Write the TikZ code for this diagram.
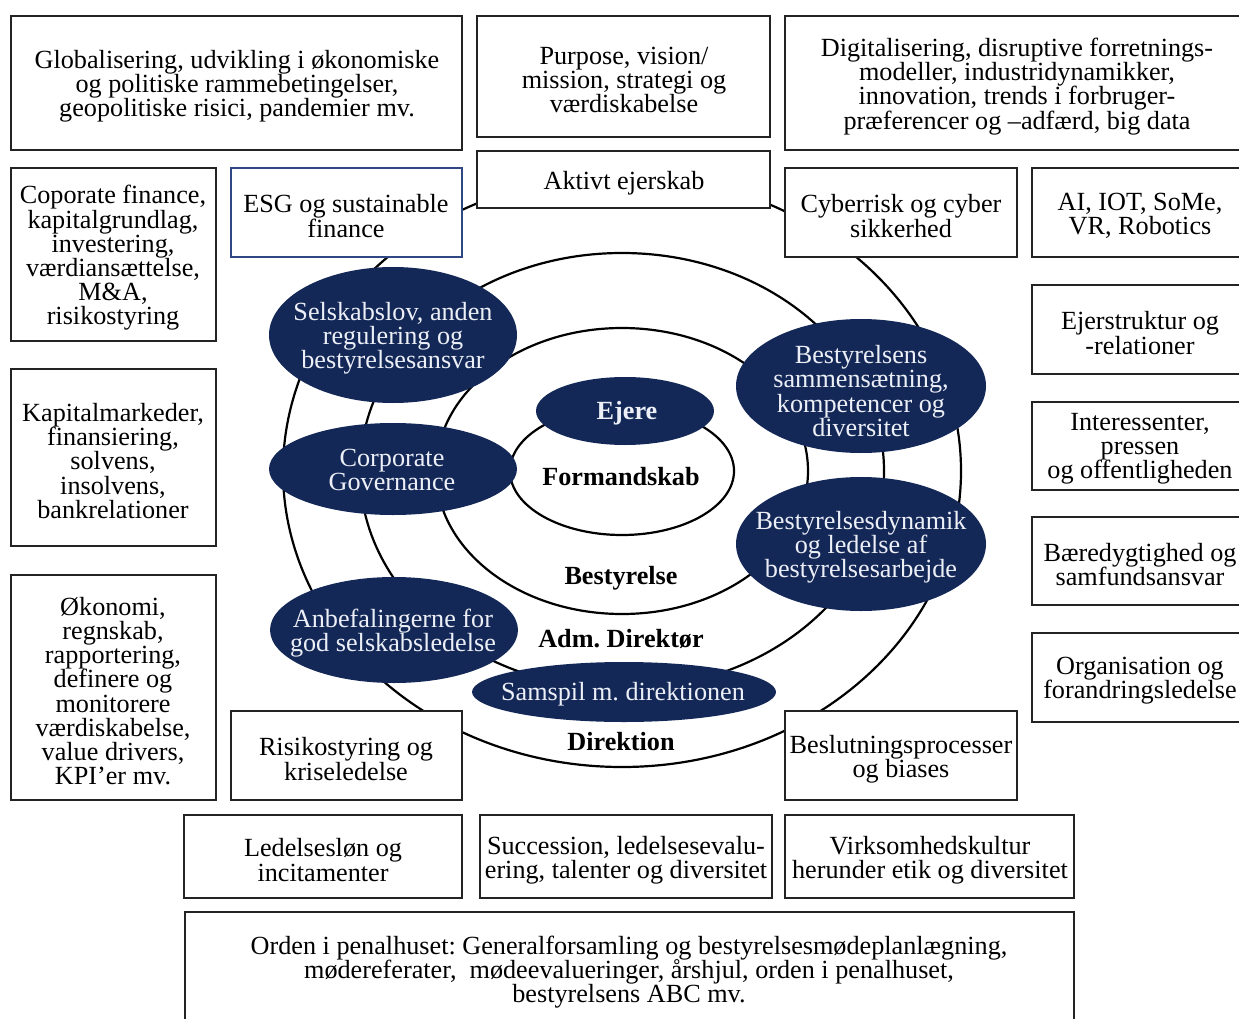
\documentclass[tikz,border=0pt]{standalone}
\usepackage{fontspec}
\setmainfont{Liberation Serif}
\usetikzlibrary{shapes.geometric}
\definecolor{navy}{RGB}{20,40,88}
\definecolor{paleink}{RGB}{236,239,246}
\definecolor{esgblue}{RGB}{47,72,132}
\definecolor{boxline}{RGB}{35,35,35}
\lineskiplimit=-30pt
\frenchspacing

\begin{document}
\begin{tikzpicture}[x=1pt, y=-1pt,
    txt/.style={align=center, inner sep=0pt, font=\fontsize{26.2}{24.2}\selectfont},
    topic/.style={draw=boxline, line width=1.3pt, fill=white, inner sep=0pt},
    ring/.style={ellipse, draw=black, line width=2.2pt, inner sep=0pt},
    blob/.style={ellipse, fill=navy, inner sep=0pt},
    ontxt/.style={txt, text=paleink},
    level/.style={txt, font=\fontsize{26.2}{24.2}\selectfont\bfseries}]

        \useasboundingbox (0,0) rectangle (1239,1019);

        % rings
        \node[ring, minimum width=678pt, minimum height=592pt] at (622,471) (direktion) {};
        \node[ring, minimum width=524pt, minimum height=436pt] at (622,471) (adm) {};
        \node[ring, minimum width=372pt, minimum height=286pt] at (622,471) (bestyrelse) {};
        \node[ring, minimum width=224pt, minimum height=128pt] at (622,471) (formand) {};

        % topic boxes
        \node[topic, minimum width=451pt, minimum height=134pt] at (236.5,83) (glob) {};
        \node[topic, minimum width=293pt, minimum height=121pt] at (623.5,76.5) (purpose) {};
        \node[topic, minimum width=464pt, minimum height=134pt] at (1017,83) (digital) {};
        \node[topic, minimum width=293pt, minimum height=57pt] at (623.5,179.5) (ejerskab) {};
        \node[topic, minimum width=205pt, minimum height=173pt] at (113.5,254.5) (corpfin) {};
        \node[topic, draw=esgblue, minimum width=231pt, minimum height=89pt] at (346.5,212.5) (esg) {};
        \node[topic, minimum width=232pt, minimum height=89pt] at (901,212.5) (cyber) {};
        \node[topic, minimum width=216pt, minimum height=89pt] at (1140,212.5) (tech) {};
        \node[topic, minimum width=216pt, minimum height=89pt] at (1140,329.5) (ejerstruktur) {};
        \node[topic, minimum width=205pt, minimum height=177pt] at (113.5,457.5) (kapital) {};
        \node[topic, minimum width=216pt, minimum height=88pt] at (1140,446) (interessenter) {};
        \node[topic, minimum width=216pt, minimum height=88pt] at (1140,561) (baered) {};
        \node[topic, minimum width=205pt, minimum height=225pt] at (113.5,687.5) (oekonomi) {};
        \node[topic, minimum width=216pt, minimum height=89pt] at (1140,677.5) (organisation) {};
        \node[topic, minimum width=231pt, minimum height=89pt] at (346.5,755.5) (risiko) {};
        \node[topic, minimum width=232pt, minimum height=89pt] at (901,755.5) (beslut) {};
        \node[topic, minimum width=278pt, minimum height=83pt] at (323,856.5) (loen) {};
        \node[topic, minimum width=292pt, minimum height=83pt] at (626,856.5) (succession) {};
        \node[topic, minimum width=289pt, minimum height=83pt] at (929.5,856.5) (kultur) {};
        \node[topic, minimum width=889pt, minimum height=114pt] at (629.5,969) (orden) {};

        % box texts
        \node[txt] at (237,86.5) (globtxt) {Globalisering, udvikling i økonomiske\\og politiske rammebetingelser,\\geopolitiske risici, pandemier mv.};
        \node[txt] at (624,80) (purposetxt) {Purpose, vision/\\mission, strategi og\\værdiskabelse};
        \node[txt] at (1017,86.5) (digitaltxt) {Digitalisering, disruptive forretnings-\\modeller, industridynamikker,\\innovation, trends i forbruger-\\præferencer og –adfærd, big data};
        \node[txt] at (624,183) (ejerskabtxt) {Aktivt ejerskab};
        \node[txt] at (113,258) (corpfintxt) {Coporate finance,\\kapitalgrundlag,\\investering,\\værdiansættelse,\\M\&A,\\risikostyring};
        \node[txt] at (346,216) (esgtxt) {ESG og sustainable\\finance};
        \node[txt] at (901,216) (cybertxt) {Cyberrisk og cyber\\sikkerhed};
        \node[txt] at (1140,216) (techtxt) {AI, IOT, SoMe,\\VR, Robotics};
        \node[txt] at (1140,333) (ejerstrukturtxt) {Ejerstruktur og\\-relationer};
        \node[txt] at (113,461) (kapitaltxt) {Kapitalmarkeder,\\finansiering,\\solvens,\\insolvens,\\bankrelationer};
        \node[txt] at (1140,449) (interessentertxt) {Interessenter,\\pressen\\og offentligheden};
        \node[txt] at (1140,564.5) (baeredtxt) {Bæredygtighed og\\samfundsansvar};
        \node[txt] at (113,691) (oekonomitxt) {Økonomi,\\regnskab,\\rapportering,\\definere og\\monitorere\\værdiskabelse,\\value drivers,\\KPI’er mv.};
        \node[txt] at (1140,681) (organisationtxt) {Organisation og\\forandringsledelse};
        \node[txt] at (346,759) (risikotxt) {Risikostyring og\\kriseledelse};
        \node[txt] at (901,759) (beslutxt) {Beslutningsprocesser\\og biases};
        \node[txt] at (323,860) (loentxt) {Ledelsesløn og\\incitamenter};
        \node[txt] at (626,860) (successiontxt) {Succession, ledelsesevalu-\\ering, talenter og diversitet};
        \node[txt] at (930,860) (kulturtxt) {Virksomhedskultur\\herunder etik og diversitet};
        \node[txt] at (629,972) (ordentxt) {Orden i penalhuset: Generalforsamling og bestyrelsesmødeplanlægning,\\mødereferater,\ \ mødeevalueringer, årshjul, orden i penalhuset,\\bestyrelsens ABC mv.};

        % dark ellipses
        \node[blob, minimum width=248pt, minimum height=136pt] at (393,335) (selskab) {};
        \node[blob, minimum width=248pt, minimum height=92pt] at (393,469) (corpgov) {};
        \node[blob, minimum width=248pt, minimum height=106pt] at (394,630) (anbefal) {};
        \node[blob, minimum width=304pt, minimum height=60pt] at (624,692) (samspil) {};
        \node[blob, minimum width=178pt, minimum height=68pt] at (625,411) (ejere) {};
        \node[blob, minimum width=250pt, minimum height=134pt] at (861,386) (sammen) {};
        \node[blob, minimum width=250pt, minimum height=134pt] at (861,544) (dynamik) {};

        \node[ontxt] at (393,338) (selskabtxt) {Selskabslov, anden\\regulering og\\bestyrelsesansvar};
        \node[ontxt] at (392,470) (corpgovtxt) {Corporate\\Governance};
        \node[ontxt] at (393,633) (anbefaltxt) {Anbefalingerne for\\god selskabsledelse};
        \node[ontxt] at (623,694) (samspiltxt) {Samspil m. direktionen};
        \node[ontxt, font=\fontsize{26.2}{24.2}\selectfont\bfseries] at (627,413) (ejeretxt) {Ejere};
        \node[ontxt] at (861,391) (sammentxt) {Bestyrelsens\\sammensætning,\\kompetencer og\\diversitet};
        \node[ontxt] at (861,547) (dynamiktxt) {Bestyrelsesdynamik\\og ledelse af\\bestyrelsesarbejde};

        % ring labels
        \node[level] at (621,477) (formandtxt) {Formandskab};
        \node[level] at (621,578) (bestyrelsetxt) {Bestyrelse};
        \node[level] at (621,639) (admtxt) {Adm. Direktør};
        \node[level] at (621,742) (direktiontxt) {Direktion};

    \end{tikzpicture}
\end{document}
